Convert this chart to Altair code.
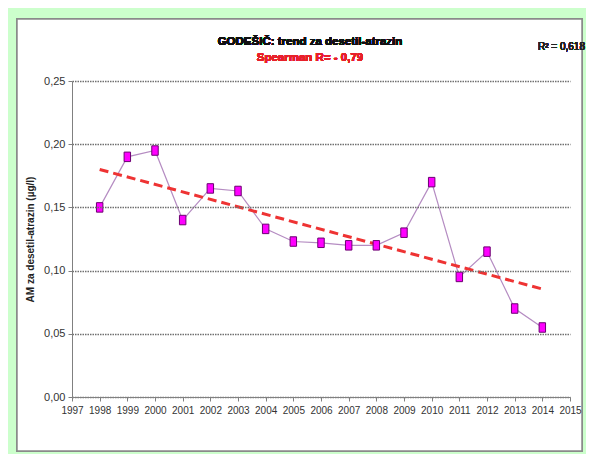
import altair as alt
import pandas as pd

# ---- data ----
years = [1998, 1999, 2000, 2001, 2002, 2003, 2004, 2005, 2006, 2007,
         2008, 2009, 2010, 2011, 2012, 2013, 2014]
am_values = [0.150, 0.190, 0.195, 0.140, 0.165, 0.163, 0.133, 0.123, 0.122,
             0.120, 0.120, 0.130, 0.170, 0.095, 0.115, 0.070, 0.055]
x_ticks = list(range(1997, 2016))
y_ticks = [0.0, 0.05, 0.10, 0.15, 0.20, 0.25]

title_text = "GODEŠIČ: trend za desetil-atrazin"
subtitle_text = "Spearman R= - 0,79"
r2_text = "R² = 0,618"
y_title = "AM za desetil-atrazin  (µg/l)"

df = pd.DataFrame({"year": years, "am": am_values})

FONT = "Liberation Sans, Arial, sans-serif"

x_enc = alt.X(
    "year:Q",
    scale=alt.Scale(domain=[1997, 2015], nice=False, zero=False),
    axis=alt.Axis(values=x_ticks, format="d", title=None, grid=False,
                  labelOverlap=False, labelBound=False, labelFlush=False,
                  tickSize=4, labelPadding=4, labelFontSize=10,
                  labelFont=FONT, labelColor="#333333", zindex=1,
                  domainColor="#808080", tickColor="#808080"),
)
y_enc = alt.Y(
    "am:Q",
    scale=alt.Scale(domain=[0, 0.25], nice=False),
    axis=alt.Axis(values=y_ticks, title=y_title,
                  labelExpr="replace(format(datum.value, '.2f'), '.', ',')",
                  tickSize=4, labelPadding=3, labelFontSize=11,
                  labelFont=FONT, labelColor="#333333", zindex=1,
                  titleFont=FONT,
                  titleFontSize=10, titleFontWeight="bold", titleColor="#222222",
                  titlePadding=8,
                  grid=True, gridColor="#707070", gridDash=[1.5, 1],
                  gridWidth=1.5,
                  domainColor="#808080", tickColor="#808080"),
)

base = alt.Chart(df)

panel = base.mark_rect(fill="white", stroke="#8a8a8a", strokeWidth=1.5).encode(
    x=alt.value(-55), x2=alt.value(510), y=alt.value(-62), y2=alt.value(370)
)

line = base.mark_line(color="#b58cc2", strokeWidth=1.2).encode(x=x_enc, y=y_enc)

trend = base.transform_regression("year", "am").mark_line(
    color="#ee3333", strokeWidth=3, strokeDash=[9, 5]
).encode(x=x_enc, y=y_enc)

rect_shape = "M-0.68,-1L0.68,-1L0.68,1L-0.68,1Z"
points = base.mark_point(
    shape=rect_shape, size=90, filled=True, fill="#ff00ff",
    stroke="#6b0070", strokeWidth=1, opacity=1
).encode(x=x_enc, y=y_enc)

title = base.mark_text(fontSize=11.5, fontWeight="bold", font=FONT,
                       color="#111111", align="center", baseline="middle").encode(
    x=alt.value(238), y=alt.value(-39), text=alt.value(title_text))
subtitle = base.mark_text(fontSize=11.5, fontWeight="bold", font=FONT,
                          color="#e8202a", align="center", baseline="middle").encode(
    x=alt.value(238), y=alt.value(-23), text=alt.value(subtitle_text))
r2 = base.mark_text(fontSize=10, font=FONT, color="#222222",
                    align="right", baseline="middle").encode(
    x=alt.value(513), y=alt.value(-34), text=alt.value(r2_text))

chart = alt.layer(panel, line, trend, points, title, subtitle, r2).properties(
    width=498, height=316,
    background="#ccffcc",
    padding={"left": 64, "top": 73, "right": 16, "bottom": 57},
    autosize=alt.AutoSizeParams(type="none"),
).configure_view(stroke="#808080", strokeWidth=1)

chart.save("out.html", embed_options={"renderer": "svg", "actions": False})
